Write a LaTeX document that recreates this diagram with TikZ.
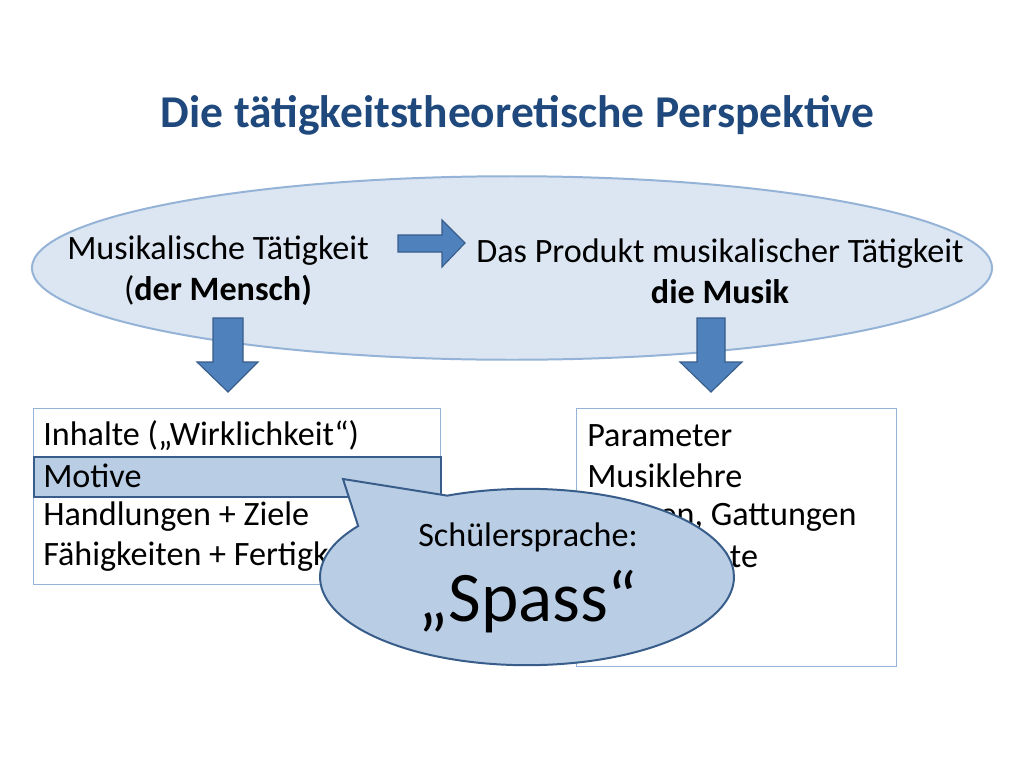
\documentclass[tikz,border=0pt]{standalone}
\usepackage{fontspec}
\setmainfont{Carlito}
\usetikzlibrary{shapes.geometric,shapes.callouts}
\definecolor{titleblue}{HTML}{1F497D}
\definecolor{ovalfill}{HTML}{DCE6F2}
\definecolor{ovalline}{HTML}{95B3D7}
\definecolor{arrowfill}{HTML}{4F81BD}
\definecolor{arrowline}{HTML}{385D8A}
\definecolor{bubblefill}{HTML}{B9CDE5}

\begin{document}
\begin{tikzpicture}[
x=0.703pt, y=-0.703pt, headline/.style={font=\fontsize{32}{38}\selectfont\bfseries, text=titleblue}, oval/.style={ellipse, draw=ovalline, fill=ovalfill, line width=1.4pt, minimum width=675pt, minimum height=129pt}, ovaltext/.style={font=\fontsize{24}{29}\selectfont, align=center, inner sep=0pt}, listbox/.style={rectangle, draw=ovalline, fill=white, line width=0.8pt, anchor=north west, inner sep=0pt}, item/.style={font=\fontsize{24}{29}\selectfont, anchor=west, inner sep=0pt}, highlight/.style={rectangle, draw=arrowline, fill=bubblefill, line width=1.4pt, anchor=north west, inner sep=0pt, minimum width=286.1pt, minimum height=28.1pt}, blockarrow/.style={fill=arrowfill, draw=arrowline, line width=0.8pt, line join=miter}, bubble/.style={ellipse callout, draw=arrowline, fill=bubblefill, line width=1.4pt, minimum width=291pt, minimum height=124pt, callout pointer arc=32} ]
\useasboundingbox (0,0) rectangle (1024,768);
\fill[white] (0,0) rectangle (1024,768);
\node[headline] (title) at (518,115) {Die tätigkeitstheoretische Perspektive};
\node[oval] (oval) at (512,268) {};
\node[ovaltext] (mensch) at (218,271) {Musikalische Tätigkeit\\(\textbf{der Mensch)}};
\node[ovaltext] (produkt) at (720,271) {Das Produkt musikalischer Tätigkeit\\\textbf{die Musik}};
% Blockpfeile
\draw[blockarrow] (398,235) -- (442,235) -- (442,220) -- (465,243) -- (442,267) -- (442,252) -- (398,252) -- cycle;
\draw[blockarrow] (213,318) -- (243,318) -- (243,362) -- (258,362) -- (228,392) -- (197,362) -- (213,362) -- cycle;
\draw[blockarrow] (697,318) -- (725,318) -- (725,362) -- (742,362) -- (711,392) -- (680,362) -- (697,362) -- cycle;
% linke Box
\node[listbox, minimum width=286.1pt, minimum height=123.7pt] (mbox) at (33,408) {};
\node[highlight] (motivebar) at (33,456) {};
\node[item] (inhalte) at (43,436) {Inhalte („Wirklichkeit“)};
\node[item] (motive) at (43,476) {Motive};
\node[item] (handlungen) at (43,517) {Handlungen + Ziele};
\node[item] (faehig) at (43,557) {Fähigkeiten + Fertigkeiten};
% rechte Box
\node[listbox, minimum width=225pt, minimum height=181.4pt] (pbox) at (576,408) {};
\node[item] (parameter) at (587,436) {Parameter};
\node[item] (lehre) at (587,476) {Musiklehre};
\node[item] (formen) at (587,517) {Formen, Gattungen};
\node[item] (instrumente) at (587,557) {Instrumente};
% Sprechblase
\node[bubble, callout absolute pointer={(343,479)}] (bubble) at (527,577) {};
\node[ovaltext] (sprache) at (528,537) {Schülersprache:};
\node[ovaltext, font=\fontsize{50}{56}\selectfont] (spass) at (528,602) {„Spass“};
\end{tikzpicture}
\end{document}
